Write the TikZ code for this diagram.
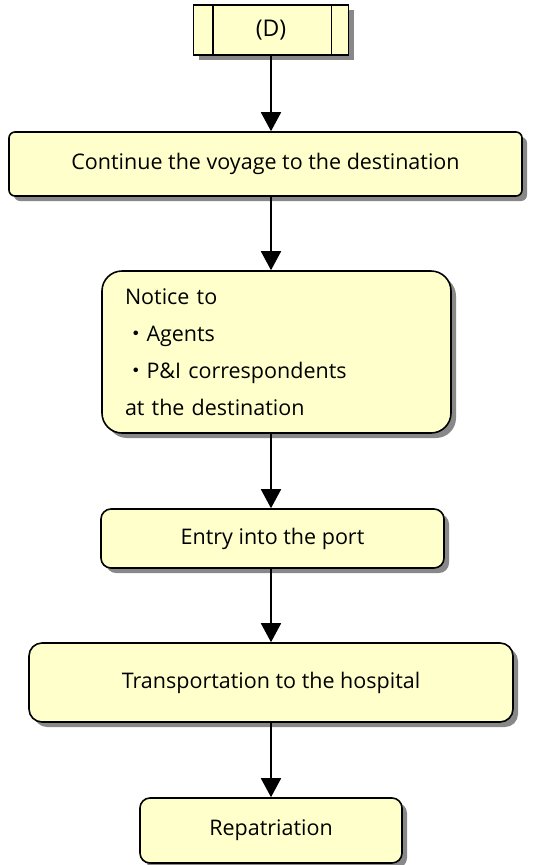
\documentclass[tikz,border=0pt]{standalone}
\usepackage{fontspec}
\setmainfont{Open Sans}
\newfontfamily\cjk{Noto Sans CJK JP}
\usetikzlibrary{arrows.meta,shadows,calc}
\definecolor{boxfill}{HTML}{FFFFCC}
\definecolor{shadowgray}{HTML}{888888}
\begin{document}
\begin{tikzpicture}[x=1pt,y=-1pt,
  box/.style={draw=black, line width=1.6pt, fill=boxfill,
    drop shadow={shadow xshift=5pt,shadow yshift=-5pt,fill=shadowgray,opacity=1},
    font=\fontsize{21.5}{26}\selectfont, inner sep=0pt, anchor=center},
  arr/.style={line width=1.8pt, -{Triangle[width=20pt,length=19pt]}}]
\useasboundingbox (0,0) rectangle (539,865);

\node[box, minimum width=155pt, minimum height=50pt, font=\fontsize{23}{26}\selectfont] (D) at (271,30) {(D)};
\draw[line width=1.6pt] ($(D.north west)+(20,0)$) -- ($(D.south west)+(20,0)$);
\draw[line width=1.6pt] ($(D.north east)+(-18,0)$) -- ($(D.south east)+(-18,0)$);

\node[box, rounded corners=6pt, minimum width=513pt, minimum height=64pt] (c2) at (265.5,164) {Continue the voyage to the destination};

\node[box, rounded corners=20pt, minimum width=349pt, minimum height=162pt,
  align=left, text width=303pt, inner xsep=23pt,
  font=\fontsize{21.5}{37}\selectfont] (c3) at (276.5,352)
  {\raisebox{0pt}[0pt][0pt]{}Notice to\\{\cjk ・}Agents\\{\cjk ・}P\&I correspondents\\at the destination};

\node[box, rounded corners=10pt, minimum width=343pt, minimum height=59pt] (c4) at (272.5,538.5) {Entry into the port};

\node[box, rounded corners=13pt, minimum width=484pt, minimum height=79pt] (c5) at (271,682.5) {Transportation to the hospital};

\node[box, rounded corners=10pt, minimum width=262pt, minimum height=65pt] (c6) at (271,830.5) {Repatriation};

\draw[arr] (D.south) -- (D.south |- c2.north);
\draw[arr] (c2.south -| D.south) -- (D.south |- c3.north);
\draw[arr] (c3.south -| D.south) -- (D.south |- c4.north);
\draw[arr] (c4.south -| D.south) -- (D.south |- c5.north);
\draw[arr] (c5.south -| D.south) -- (D.south |- c6.north);
\end{tikzpicture}
\end{document}
